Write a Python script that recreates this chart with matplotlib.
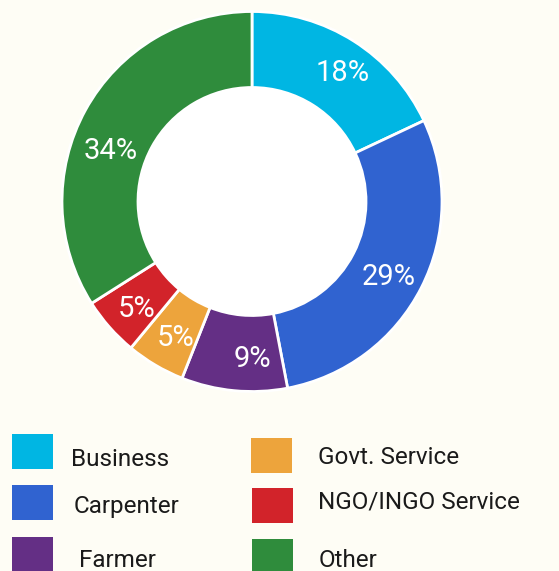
import numpy as np
import matplotlib.pyplot as plt
from matplotlib.patches import Rectangle, Circle

plt.rcParams["font.family"] = ["Roboto", "DejaVu Sans"]

categories = ["Business", "Carpenter", "Farmer", "Govt. Service", "NGO/INGO Service", "Other"]
shares = [18, 29, 9, 5, 5, 34]
colors = ["#00B6E3", "#3063D0", "#642F85", "#EDA43C", "#D2232A", "#2F8C3C"]
BG = "#FEFDF5"

# small angular nudges (deg) and radial distances for the percent labels
label_shift = [-2.8, -1.9, 5.4, 1.4, 1.5, 9.2]
label_dist = [0.83, 0.82, 0.83, 0.82, 0.83, 0.79]

W, H = 559, 571
fig = plt.figure(figsize=(W / 100, H / 100), dpi=100, facecolor=BG)

# pie centre (252, 201.5) px, outer radius 190 px
cx, cy, r = 252, 201.5, 190
ax = fig.add_axes([(cx - r) / W, 1 - (cy + r) / H, 2 * r / W, 2 * r / H])
ax.set_facecolor(BG)
wedges, _ = ax.pie(
    shares,
    colors=colors,
    startangle=90,
    counterclock=False,
    radius=1.0,
    wedgeprops=dict(width=0.40, edgecolor="white", linewidth=2),
)
ax.add_patch(Circle((0, 0), 0.60, color="white", zorder=0))
for w, v, sh, d in zip(wedges, shares, label_shift, label_dist):
    ang = np.deg2rad((w.theta1 + w.theta2) / 2 + sh)
    ax.text(d * np.cos(ang), d * np.sin(ang), f"{v}%", color="white",
            fontsize=21, ha="center", va="center")
ax.set_xlim(-1, 1)
ax.set_ylim(-1, 1)
ax.set_aspect("equal")
ax.axis("off")

# legend, drawn by hand in pixel positions
box_x = [12, 12, 12, 251, 252, 252]
box_y = [434, 485, 537, 438, 488, 539]
text_x = [71, 74, 79, 318, 318, 319]
text_base = [466, 513, 567, 464, 508, 567]
for i, (name, c) in enumerate(zip(categories, colors)):
    fig.patches.append(Rectangle((box_x[i] / W, 1 - (box_y[i] + 35) / H), 41 / W, 35 / H,
                                 transform=fig.transFigure, facecolor=c, edgecolor="none"))
    fig.text(text_x[i] / W, 1 - text_base[i] / H, name, fontsize=17.5,
             color="#1a1a1a", va="baseline", ha="left")

fig.savefig("out.png", dpi=100, facecolor=BG)
